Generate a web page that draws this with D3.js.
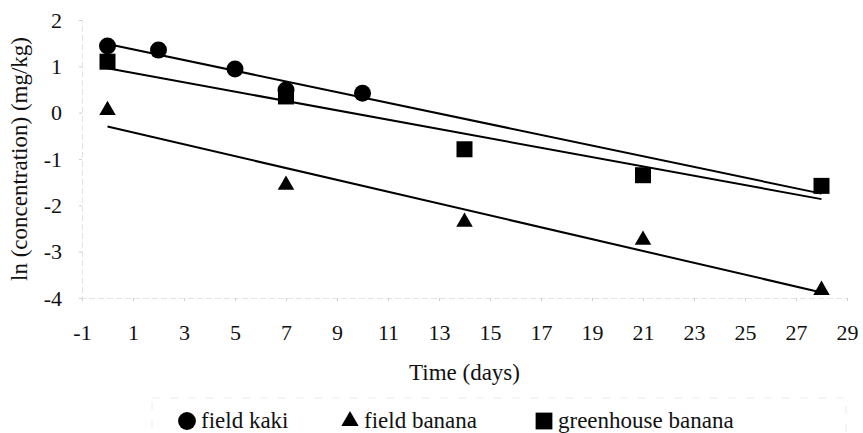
<!DOCTYPE html>
<html>
  <head>
    <meta charset="utf-8">
    <title>ln concentration vs time</title>
    <style>
      body { margin: 0; background: #fff; }
      text { font-family: "Liberation Serif", "Times New Roman", serif; fill: #111; }
    </style>
    <script src="https://d3js.org/d3.v7.min.js"></script>
  </head>
  <body>
    <script type="text/javascript">
      var width = 863, height = 433;

      // data
      var kakiDays = [0, 2, 5, 7, 10];
      var kakiValues = [1.44, 1.35, 0.94, 0.49, 0.42];
      var fieldBananaDays = [0, 7, 14, 21, 28];
      var fieldBananaValues = [0.05, -1.56, -2.36, -2.75, -3.83];
      var greenBananaDays = [0, 7, 14, 21, 28];
      var greenBananaValues = [1.1, 0.35, -0.79, -1.35, -1.58];
      var xTicks = [-1, 1, 3, 5, 7, 9, 11, 13, 15, 17, 19, 21, 23, 25, 27, 29];
      var yTicks = [2, 1, 0, -1, -2, -3, -4];
      var seriesNames = ["field kaki", "field banana", "greenhouse banana"];

      var serif = "'Liberation Serif', 'Times New Roman', serif";

      var x = d3.scaleLinear().domain([-1, 29]).range([82, 847]);
      var y = d3.scaleLinear().domain([-4, 2]).range([298, 20]);

      var svg = d3.select("body").append("svg")
        .attr("width", width)
        .attr("height", height);

      // faint axes
      var fmt = function(d) { return String(d); };
      var xAxis = d3.axisBottom(x).tickValues(xTicks).tickFormat(fmt).tickSize(3);
      var yAxis = d3.axisLeft(y).tickValues(yTicks).tickFormat(fmt).tickSize(3).tickPadding(17);

      var gx = svg.append("g").attr("transform", "translate(0," + y(-4) + ")").call(xAxis);
      var gy = svg.append("g").attr("transform", "translate(" + x(-1) + ",0)").call(yAxis);
      [gx, gy].forEach(function(g) {
        g.attr("font-family", serif).attr("font-size", 22);
        g.select(".domain").attr("stroke", "#e4e4e4").attr("stroke-dasharray", "6,3");
        g.selectAll(".tick line").attr("stroke", "#d0d0d0");
        g.selectAll(".tick text").attr("fill", "#111");
      });
      gx.selectAll(".tick text").attr("y", 42).attr("dy", 0);

      // regression line from the points
      function fit(xs, ys) {
        var mx = d3.mean(xs), my = d3.mean(ys), sxy = 0, sxx = 0;
        for (var i = 0; i < xs.length; i++) {
          sxy += (xs[i] - mx) * (ys[i] - my);
          sxx += (xs[i] - mx) * (xs[i] - mx);
        }
        var b = sxy / sxx;
        return { a: my - b * mx, b: b };
      }

      var series = [
        { days: kakiDays, vals: kakiValues, shape: d3.symbolCircle, size: 227 },
        { days: fieldBananaDays, vals: fieldBananaValues, shape: d3.symbolTriangle, size: 118 },
        { days: greenBananaDays, vals: greenBananaValues, shape: d3.symbolSquare, size: 256 }
      ];

      series.forEach(function(s) {
        var f = fit(s.days, s.vals);
        svg.append("line")
          .attr("x1", x(0)).attr("y1", y(f.a))
          .attr("x2", x(28)).attr("y2", y(f.a + f.b * 28))
          .attr("stroke", "#000").attr("stroke-width", 2);
      });

      series.forEach(function(s) {
        svg.selectAll(null)
          .data(s.days)
          .enter()
          .append("path")
            .attr("d", d3.symbol().type(s.shape).size(s.size))
            .attr("transform", function(d, i) {
              return "translate(" + x(d) + "," + y(s.vals[i]) + ")";
            })
            .attr("fill", "#000");
      });

      // axis titles
      svg.append("text")
        .attr("x", (x(-1) + x(29)) / 2).attr("y", 380)
        .attr("text-anchor", "middle")
        .style("font-size", "23px")
        .text("Time (days)");

      svg.append("text")
        .attr("transform", "translate(27," + (y(2) + y(-4)) / 2 + ") rotate(-90)")
        .attr("text-anchor", "middle")
        .style("font-size", "23px")
        .text("ln (concentration) (mg/kg)");

      // legend
      var legend = svg.append("g");
      legend.append("rect")
        .attr("x", 152).attr("y", 398).attr("width", 694).attr("height", 50)
        .attr("fill", "none").attr("stroke", "#ececec").attr("stroke-dasharray", "8,10");

      var legendX = [187, 350, 544];
      series.forEach(function(s, i) {
        legend.append("path")
          .attr("d", d3.symbol().type(s.shape).size(s.size * 1.1))
          .attr("transform", "translate(" + legendX[i] + ",421)")
          .attr("fill", "#000");
        legend.append("text")
          .attr("x", legendX[i] + 14).attr("y", 428)
          .style("font-size", "23px")
          .text(seriesNames[i]);
      });
    </script>
  </body>
</html>
